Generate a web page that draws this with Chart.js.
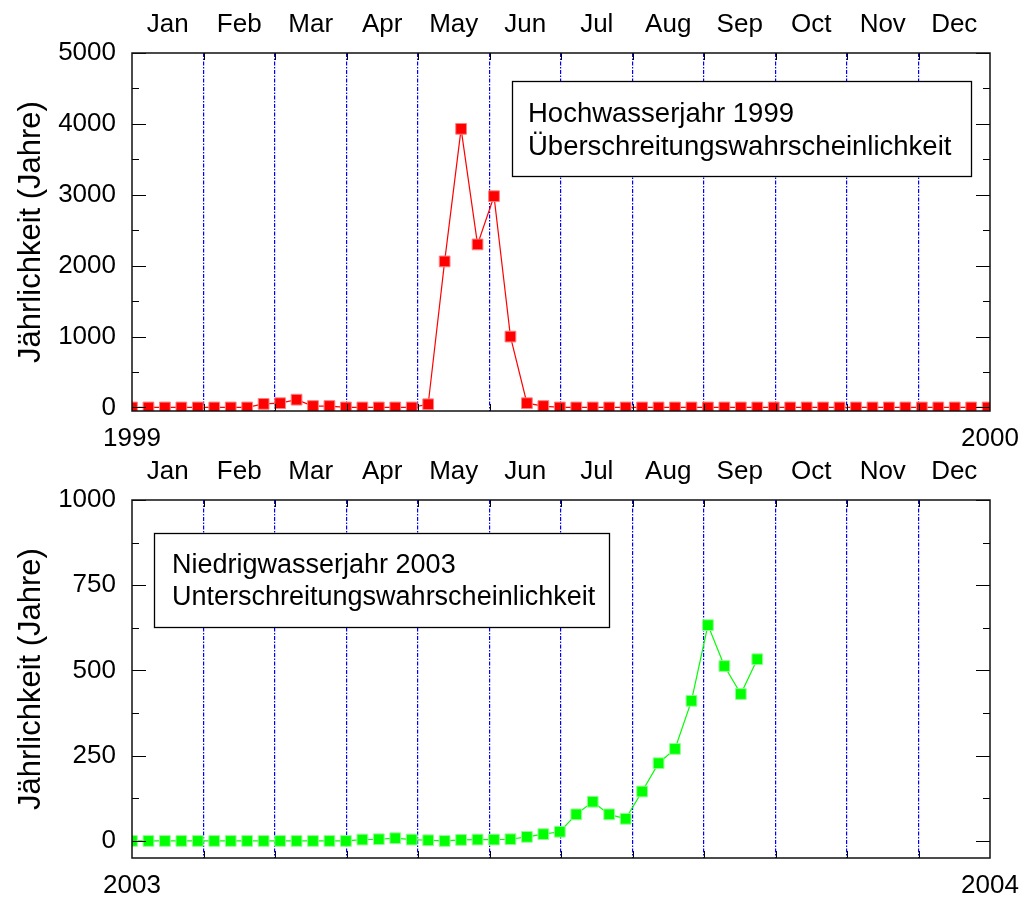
<!DOCTYPE html>
<html>
<head>
<meta charset="utf-8">
<script src="https://cdn.jsdelivr.net/npm/chart.js@4/dist/chart.umd.min.js"></script>
<style>
  html, body { margin: 0; padding: 0; background: #fff; }
  #wrap { position: relative; width: 1020px; height: 899px; background: #fff; overflow: hidden; }
  canvas { position: absolute; left: 0; }
</style>
</head>
<body>
<div id="wrap">
  <canvas id="c1" width="1020" height="447" style="top:0px"></canvas>
  <canvas id="c2" width="1020" height="452" style="top:447px"></canvas>
</div>
<script>
// ---------- data ----------
const months = ['Jan','Feb','Mar','Apr','May','Jun','Jul','Aug','Sep','Oct','Nov','Dec'];
const yearLabels1999 = ['1999','2000'];
const yearLabels2003 = ['2003','2004'];
const yTicks1999 = [0, 1000, 2000, 3000, 4000, 5000];
const yTicks2003 = [0, 250, 500, 750, 1000];
const yTitle = 'Jährlichkeit (Jahre)';
const boxText1999 = ['Hochwasserjahr 1999', 'Überschreitungswahrscheinlichkeit'];
const boxText2003 = ['Niedrigwasserjahr 2003', 'Unterschreitungswahrscheinlichkeit'];
// weekly values (week 0 .. 52), 1999 flood year
const weekly1999 = [0, 0, 0, 0, 0, 0, 0, 0, 50, 60,
                    110, 20, 20, 0, 0, 0, 0, 0, 45, 2060,
                    3930, 2300, 2980, 1000, 60, 20, 0, 0, 0, 0,
                    0, 0, 0, 0, 0, 0, 0, 0, 0, 0,
                    0, 0, 0, 0, 0, 0, 0, 0, 0, 0,
                    0, 0, 0];
// weekly values (week 0 .. 38), 2003 low-water year
const weekly2003 = [0, 0, 0, 0, 0, 0, 0, 0, 0, 0,
                    0, 0, 0, 0, 4, 5, 8, 4, 2, 0,
                    3, 4, 4, 5, 12, 20, 27, 78, 115, 78,
                    65, 145, 228, 270, 411, 633, 513, 431, 533];

const FONT = "'Liberation Sans', Arial, sans-serif";
const DAYS = 365;

const framePlugin = {
  id: 'frame',
  afterDatasetsDraw(chart, args, opts) {
    const {ctx, chartArea: a, scales} = chart;
    const y = scales.y, xt = scales.xTop;
    ctx.save();
    ctx.strokeStyle = '#000';
    ctx.lineWidth = 1;
    const vals = y.ticks.map(t => t.value);
    const step = vals[1] - vals[0];
    const L = Math.round(a.left), R = Math.round(a.right);
    const tickAt = (v, len) => {
      const p = Math.round(y.getPixelForValue(v)) + 0.5;
      ctx.beginPath();
      ctx.moveTo(L, p); ctx.lineTo(L + len, p);
      ctx.moveTo(R, p); ctx.lineTo(R - len, p);
      ctx.stroke();
    };
    vals.forEach((v, i) => {
      tickAt(v, 14);
      if (i < vals.length - 1) tickAt(v + step / 2, 7);
    });
    // month boundary ticks (top & bottom)
    for (let k = 1; k < months.length; k++) {
      const p = Math.round(xt.getPixelForValue(k - 0.5)) + 0.5;
      ctx.beginPath();
      ctx.moveTo(p, a.top); ctx.lineTo(p, a.top + 7);
      ctx.moveTo(p, a.bottom); ctx.lineTo(p, a.bottom - 7);
      ctx.stroke();
    }
    // frame
    ctx.lineWidth = 1.5;
    ctx.strokeStyle = '#111';
    ctx.strokeRect(L, Math.round(a.top), R - L, Math.round(a.bottom) - Math.round(a.top));
    // text box
    const b = opts.box;
    const bx = L + b.x, by = Math.round(a.top) + b.y;
    ctx.fillStyle = '#fff';
    ctx.fillRect(bx, by, b.w, b.h);
    ctx.lineWidth = 1.3;
    ctx.strokeStyle = '#000';
    ctx.strokeRect(bx + 0.5, by + 0.5, b.w, b.h);
    ctx.fillStyle = '#000';
    ctx.font = b.fs + 'px ' + FONT;
    ctx.textBaseline = 'alphabetic';
    ctx.textAlign = 'left';
    opts.lines.forEach((t, i) => ctx.fillText(t, bx + b.tx, by + b.ty + i * b.lh));
    ctx.restore();
  }
};

const noPadH = s => { s.paddingLeft = 0; s.paddingRight = 0; };

function makeChart(id, values, color, lightColor, yTicks, yMin, yMax, yearLabels, boxLines, box, canvasH) {
  const data = values.map((v, i) => ({x: i * 7, y: v}));
  return new Chart(document.getElementById(id), {
    type: 'line',
    data: {
      datasets: [{
        data: data,
        borderColor: color,
        borderWidth: 1.2,
        backgroundColor: color,
        pointStyle: 'rect',
        pointRadius: 7.6,
        pointBackgroundColor: color,
        pointBorderColor: lightColor,
        pointBorderWidth: 1,
        tension: 0,
        fill: false
      }]
    },
    options: {
      responsive: false,
      animation: false,
      events: [],
      layout: { padding: { left: 0, right: 30, top: 0, bottom: 0 } },
      plugins: {
        legend: { display: false },
        tooltip: { enabled: false },
        frame: { lines: boxLines, box: box }
      },
      scales: {
        x: {
          type: 'linear', position: 'bottom', min: 0, max: DAYS,
          afterBuildTicks: s => { s.ticks = [{value: 0}, {value: DAYS}]; },
          afterFit: s => { s.height = canvasH - 411; noPadH(s); },
          grid: { display: false, drawTicks: false },
          border: { display: false },
          ticks: {
            callback: (v, i) => yearLabels[i],
            font: { family: FONT, size: 26 }, color: '#000', padding: 12,
            maxRotation: 0, autoSkip: false
          }
        },
        xTop: {
          type: 'category', labels: months, position: 'top', offset: true,
          afterFit: s => { s.height = 53; noPadH(s); },
          grid: {
            offset: true, drawOnChartArea: true, drawTicks: false, lineWidth: 1.2,
            color: c => (c.type === 'tick' && c.index > 0) ? '#0000ff' : 'rgba(0,0,0,0)'
          },
          border: { display: false, dash: [4, 1.5, 1.5, 1.5] },
          ticks: { font: { family: FONT, size: 26 }, color: '#000', padding: 13, autoSkip: false, maxRotation: 0 }
        },
        y: {
          min: yMin, max: yMax,
          afterBuildTicks: s => { s.ticks = yTicks.map(v => ({value: v})); },
          afterFit: s => { s.width = 132; s.paddingTop = 0; s.paddingBottom = 0; },
          grid: { display: false, drawTicks: false },
          border: { display: false },
          ticks: { callback: v => String(v), font: { family: FONT, size: 26 }, color: '#000', padding: 16 },
          title: { display: true, text: yTitle, font: { family: FONT, size: 31 }, color: '#000', padding: { top: 13, bottom: 0 } }
        }
      }
    },
    plugins: [framePlugin]
  });
}

makeChart('c1', weekly1999, '#ff0000', '#ff8080', yTicks1999, -50, 5000, yearLabels1999, boxText1999,
  { x: 380, y: 28, w: 459, h: 95, tx: 16, ty: 41, lh: 33, fs: 27.5 }, 447);
makeChart('c2', weekly2003, '#00ff00', '#90ff90', yTicks2003, -50, 1000, yearLabels2003, boxText2003,
  { x: 22, y: 33, w: 455, h: 94, tx: 18, ty: 40, lh: 32, fs: 27 }, 452);
</script>
</body>
</html>
